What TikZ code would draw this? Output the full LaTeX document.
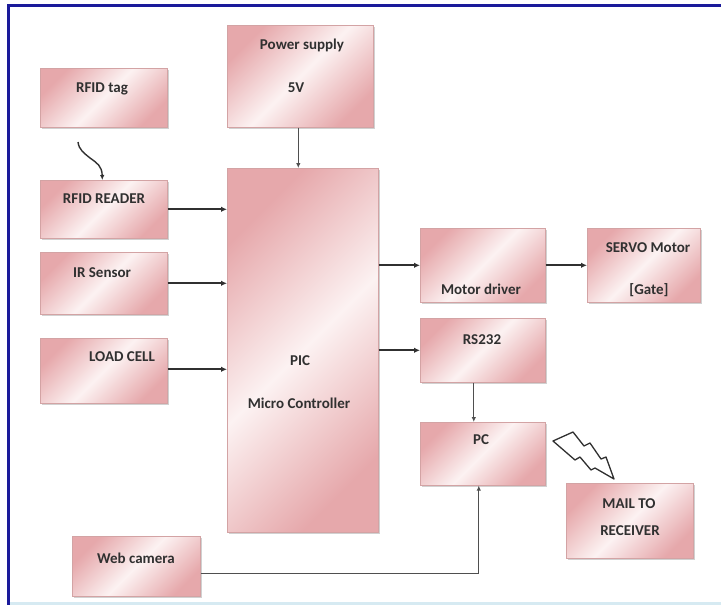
\documentclass[tikz,border=0pt]{standalone}
\usepackage{fontspec}
\setmainfont{Carlito}
\usetikzlibrary{arrows.meta,shadows}

\definecolor{pklight}{HTML}{FCF2F2}
\definecolor{pkdark}{HTML}{E6A8AB}
\definecolor{pkedge}{HTML}{D3A3A4}
\definecolor{inkgray}{HTML}{303030}
\definecolor{framblue}{HTML}{1A1A9A}
\definecolor{paleblue}{HTML}{D6EAF2}

\tikzset{
  blockbox/.style={draw=pkedge, line width=0.6pt,
    top color=pkdark, bottom color=pkdark, middle color=pklight, shading angle=45,
    drop shadow={shadow xshift=1.2pt, shadow yshift=-2pt, fill=black!45, opacity=0.4},
    anchor=north west, inner sep=0pt},
  lbl/.style={font=\bfseries\fontsize{15}{18}\selectfont, text=inkgray, inner sep=0pt},
  conn/.style={draw=inkgray, line width=1.8pt, -{Latex[length=6pt,width=5.5pt]}},
  thin conn/.style={draw=inkgray!85, line width=1.3pt, -{Latex[length=5pt,width=4.5pt]}}
}

\begin{document}
\begin{tikzpicture}[x=1pt,y=-1pt]
  \useasboundingbox (0,0) rectangle (721,605);
  \fill[white] (0,0) rectangle (721,605);

  % page frame
  \fill[framblue] (7,4) rectangle (721,7);
  \fill[framblue] (7,4) rectangle (10,605);
  \fill[paleblue] (10,602) rectangle (721,605);

  % blocks
  \node[blockbox, minimum width=127pt, minimum height=59pt]  (tag)   at (40,68)   {};
  \node[blockbox, minimum width=146pt, minimum height=102pt] (psu)   at (227,25)  {};
  \node[blockbox, minimum width=127pt, minimum height=58pt]  (rdr)   at (40,180)  {};
  \node[blockbox, minimum width=127pt, minimum height=62pt]  (ir)    at (40,252)  {};
  \node[blockbox, minimum width=127pt, minimum height=65pt]  (load)  at (40,338)  {};
  \node[blockbox, minimum width=151pt, minimum height=364pt] (pic)   at (227,168) {};
  \node[blockbox, minimum width=125pt, minimum height=74pt]  (mdrv)  at (420,228) {};
  \node[blockbox, minimum width=113pt, minimum height=74pt]  (servo) at (587,228) {};
  \node[blockbox, minimum width=125pt, minimum height=64pt]  (rs)    at (420,318) {};
  \node[blockbox, minimum width=125pt, minimum height=63pt]  (pc)    at (420,422) {};
  \node[blockbox, minimum width=127pt, minimum height=75pt]  (mail)  at (566,483) {};
  \node[blockbox, minimum width=128pt, minimum height=60pt]  (cam)   at (72,536)  {};

  % block texts
  \node[lbl] (tagT)    at (102,89)  {RFID tag};
  \node[lbl] (psuT1)   at (302,45)  {Power supply};
  \node[lbl] (psuT2)   at (296,88)  {5V};
  \node[lbl] (rdrT)    at (104,199) {RFID READER};
  \node[lbl] (irT)     at (102,273) {IR Sensor};
  \node[lbl] (loadT)   at (122,357) {LOAD CELL};
  \node[lbl] (picT1)   at (300,361) {PIC};
  \node[lbl] (picT2)   at (299,403) {Micro Controller};
  \node[lbl] (mdrvT)   at (481,289) {Motor driver};
  \node[lbl] (servoT1) at (648,248) {SERVO Motor};
  \node[lbl] (servoT2) at (649,290) {[Gate]};
  \node[lbl] (rsT)     at (482,340) {RS232};
  \node[lbl] (pcT)     at (481,440) {PC};
  \node[lbl] (mailT1)  at (629,504) {MAIL TO};
  \node[lbl] (mailT2)  at (630,531) {RECEIVER};
  \node[lbl] (camT)    at (136,558) {Web camera};

  % connectors
  \draw[thin conn] ([xshift=-2pt]psu.south) -- ([xshift=-2pt]psu.south |- pic.north);
  \draw[conn] (rdr.east) -- (rdr.east -| pic.west);
  \draw[conn] (ir.east) -- (ir.east -| pic.west);
  \draw[conn] ([yshift=1.5pt]load.east) -- ([yshift=1.5pt]load.east -| pic.west);
  \draw[conn] (mdrv.west -| pic.east) -- (mdrv.west);
  \draw[conn] (mdrv.east) -- (servo.west);
  \draw[conn] (rs.west -| pic.east) -- (rs.west);
  \draw[thin conn] ([xshift=-9pt]rs.south) -- ([xshift=-9pt]pc.north);
  \draw[thin conn] ([yshift=-7pt]cam.east) -| ([xshift=-4pt]pc.south);

  % radio link from the tag to the reader
  \coordinate (wv) at (78,142);
  \draw[draw=inkgray, line width=1.4pt, -{Latex[length=5pt,width=4.5pt]}]
    (wv) .. controls (79,150) and (84,153) .. (90,158)
    .. controls (97,163) and (102,166) .. ([xshift=-1.5pt]rdr.north);

  % lightning bolt from the PC to the mail receiver
  \draw[draw=inkgray, line width=1.3pt, fill=white, line join=round]
    (553,441) -- (573,432) -- (584,446) -- (590,443) -- (601,459) -- (606,457)
    -- (614,479) -- (595,468) -- (591,470) -- (580,457) -- (575,460) -- cycle;
\end{tikzpicture}
\end{document}
